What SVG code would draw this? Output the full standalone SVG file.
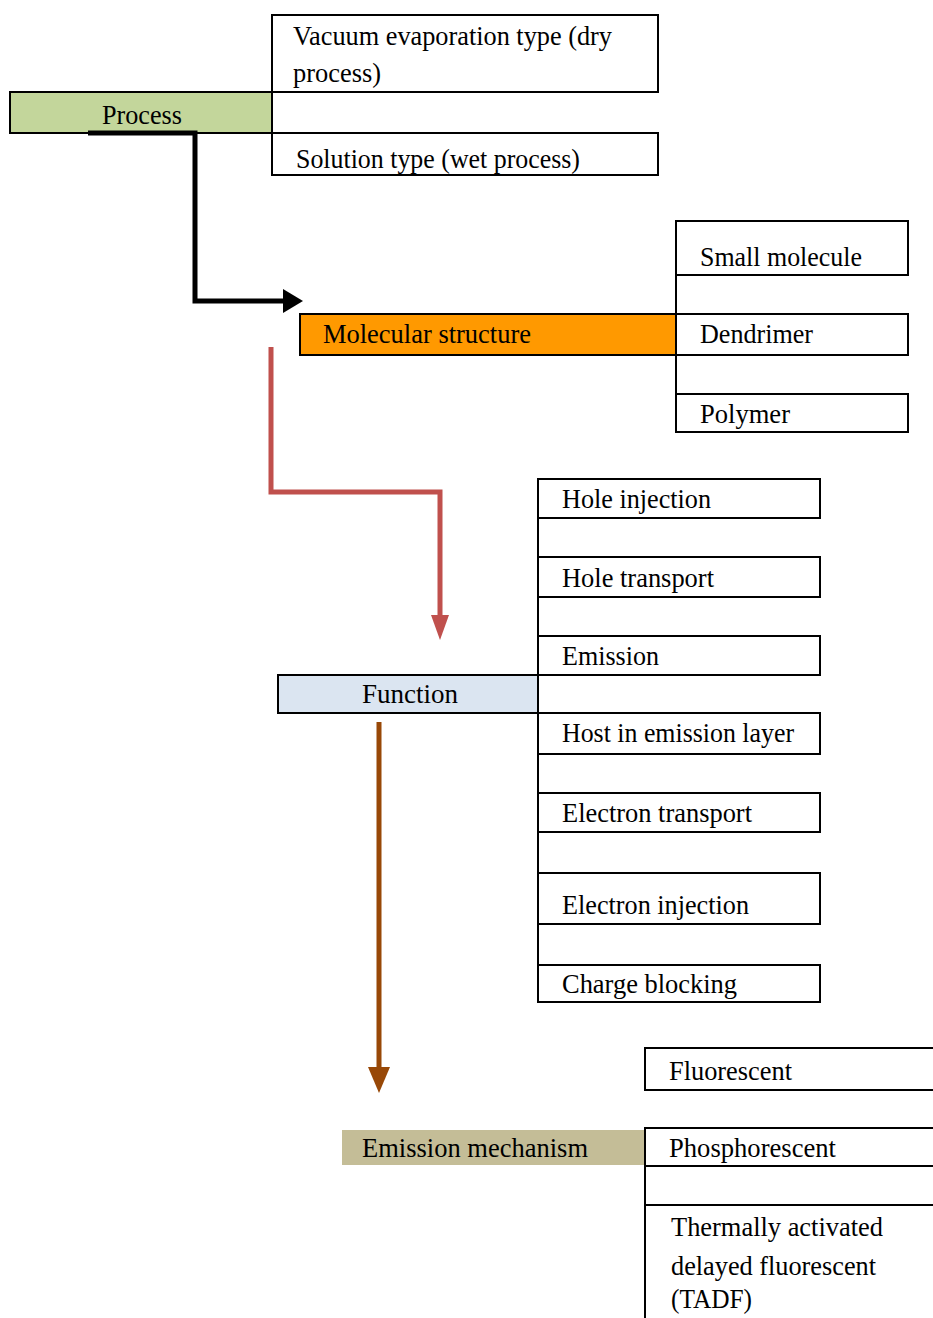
<svg xmlns="http://www.w3.org/2000/svg" width="933" height="1318" viewBox="0 0 933 1318">
<style>
.box{fill:#fff;stroke:#000;stroke-width:2}
.t{font-family:"Liberation Serif","Times New Roman",serif;font-size:27px;fill:#000}
</style>
<defs>
<marker id="ahBlack" viewBox="0 0 20 24" refX="1" refY="12" markerWidth="20" markerHeight="24" orient="auto" markerUnits="userSpaceOnUse"><path d="M0,0 L20,12 L0,24 z" fill="#000"/></marker>
<marker id="ahRed" viewBox="0 0 25 18" refX="1" refY="9" markerWidth="25" markerHeight="18" orient="auto" markerUnits="userSpaceOnUse"><path d="M0,0 L25,9 L0,18 z" fill="#c0504d"/></marker>
<marker id="ahBrown" viewBox="0 0 26 22" refX="1" refY="11" markerWidth="26" markerHeight="22" orient="auto" markerUnits="userSpaceOnUse"><path d="M0,0 L26,11 L0,22 z" fill="#984807"/></marker>
</defs>
<rect width="933" height="1318" fill="#fff"/>

<g id="process">
<rect x="10" y="92" width="262" height="41" fill="#c3d69b" stroke="#000" stroke-width="2"/>
<text class="t" x="102" y="124" textLength="80" lengthAdjust="spacingAndGlyphs">Process</text>
</g>
<g id="vacuum">
<rect class="box" x="272" y="15" width="386" height="77"/>
<text class="t" x="293" y="45" textLength="319" lengthAdjust="spacingAndGlyphs">Vacuum evaporation type (dry</text>
<text class="t" x="293" y="82" textLength="88" lengthAdjust="spacingAndGlyphs">process)</text>
</g>
<g id="solution">
<rect class="box" x="272" y="133" width="386" height="42"/>
<text class="t" x="296" y="168" textLength="284" lengthAdjust="spacingAndGlyphs">Solution type (wet process)</text>
</g>

<g id="molecular">
<rect x="300" y="314" width="376" height="41" fill="#ff9900" stroke="#000" stroke-width="2"/>
<text class="t" x="323" y="343" textLength="208" lengthAdjust="spacingAndGlyphs">Molecular structure</text>
</g>
<g id="small">
<rect class="box" x="676" y="221" width="232" height="54"/>
<text class="t" x="700" y="266" textLength="162" lengthAdjust="spacingAndGlyphs">Small molecule</text>
</g>
<g id="dendrimer">
<rect class="box" x="676" y="314" width="232" height="41"/>
<text class="t" x="700" y="343" textLength="113" lengthAdjust="spacingAndGlyphs">Dendrimer</text>
</g>
<g id="polymer">
<rect class="box" x="676" y="394" width="232" height="38"/>
<text class="t" x="700" y="423" textLength="90" lengthAdjust="spacingAndGlyphs">Polymer</text>
</g>

<g id="function">
<rect x="278" y="675" width="260" height="38" fill="#dbe5f1" stroke="#000" stroke-width="2"/>
<text class="t" x="362" y="703" textLength="96" lengthAdjust="spacingAndGlyphs">Function</text>
</g>
<g id="holeinj">
<rect class="box" x="538" y="479" width="282" height="39"/>
<text class="t" x="562" y="508" textLength="149" lengthAdjust="spacingAndGlyphs">Hole injection</text>
</g>
<g id="holetr">
<rect class="box" x="538" y="557" width="282" height="40"/>
<text class="t" x="562" y="587" textLength="152" lengthAdjust="spacingAndGlyphs">Hole transport</text>
</g>
<g id="emission">
<rect class="box" x="538" y="636" width="282" height="39"/>
<text class="t" x="562" y="665" textLength="97" lengthAdjust="spacingAndGlyphs">Emission</text>
</g>
<g id="host">
<rect class="box" x="538" y="713" width="282" height="41"/>
<text class="t" x="562" y="742" textLength="232" lengthAdjust="spacingAndGlyphs">Host in emission layer</text>
</g>
<g id="electr">
<rect class="box" x="538" y="793" width="282" height="39"/>
<text class="t" x="562" y="822" textLength="190" lengthAdjust="spacingAndGlyphs">Electron transport</text>
</g>
<g id="elecinj">
<rect class="box" x="538" y="873" width="282" height="51"/>
<text class="t" x="562" y="914" textLength="187" lengthAdjust="spacingAndGlyphs">Electron injection</text>
</g>
<g id="charge">
<rect class="box" x="538" y="965" width="282" height="37"/>
<text class="t" x="562" y="993" textLength="175" lengthAdjust="spacingAndGlyphs">Charge blocking</text>
</g>

<g id="mechanism">
<rect x="342" y="1130" width="303" height="35" fill="#c4bd97"/>
<text class="t" x="362" y="1157" textLength="226" lengthAdjust="spacingAndGlyphs">Emission mechanism</text>
</g>
<g id="fluorescent">
<rect class="box" x="645" y="1048" width="292" height="42"/>
<text class="t" x="669" y="1080" textLength="123" lengthAdjust="spacingAndGlyphs">Fluorescent</text>
</g>
<g id="phosphorescent">
<rect class="box" x="645" y="1128" width="292" height="38"/>
<text class="t" x="669" y="1157" textLength="167" lengthAdjust="spacingAndGlyphs">Phosphorescent</text>
</g>
<g id="blank">
<rect class="box" x="645" y="1166" width="292" height="39"/>
</g>
<g id="tadf">
<rect class="box" x="645" y="1205" width="292" height="120"/>
<text class="t" x="671" y="1236" textLength="212" lengthAdjust="spacingAndGlyphs">Thermally activated</text>
<text class="t" x="671" y="1275" textLength="205" lengthAdjust="spacingAndGlyphs">delayed fluorescent</text>
<text class="t" x="671" y="1308" textLength="81" lengthAdjust="spacingAndGlyphs">(TADF)</text>
</g>

<g id="connectors" fill="none">
<line x1="272" y1="92" x2="272" y2="133" stroke="#000" stroke-width="2"/>
<line x1="676" y1="221" x2="676" y2="432" stroke="#000" stroke-width="2"/>
<line x1="538" y1="479" x2="538" y2="1002" stroke="#000" stroke-width="2"/>
<polyline points="88,133 195,133 195,301 284,301" stroke="#000" stroke-width="5" marker-end="url(#ahBlack)"/>
<polyline points="271,347 271,492 440,492 440,616" stroke="#c0504d" stroke-width="5" marker-end="url(#ahRed)"/>
<polyline points="379,722 379,1068" stroke="#984807" stroke-width="5" marker-end="url(#ahBrown)"/>
</g>
</svg>
